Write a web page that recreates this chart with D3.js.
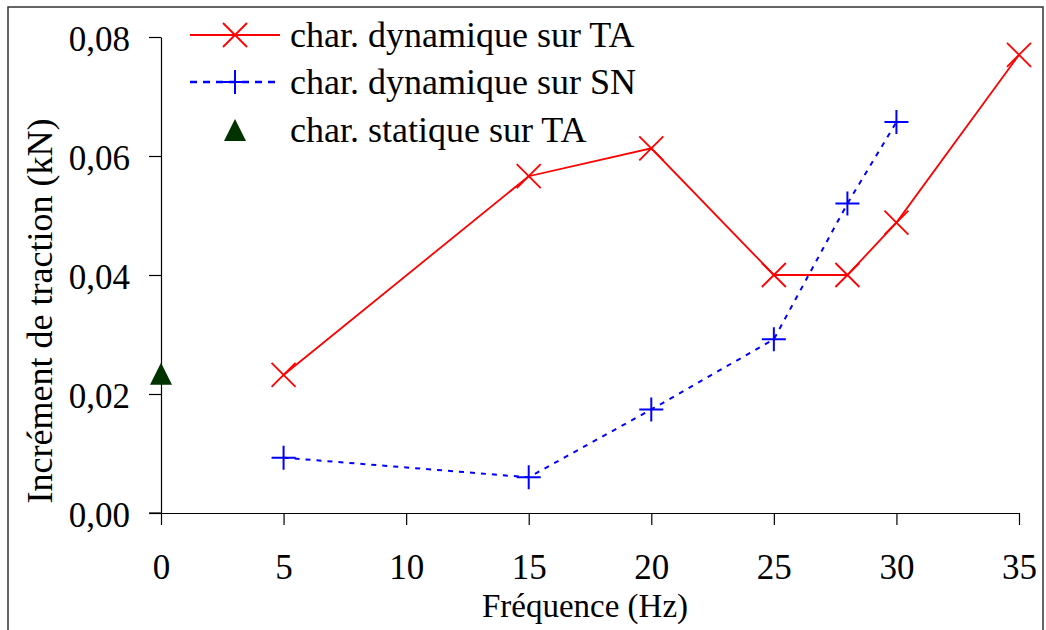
<!DOCTYPE html>
<html><head><meta charset="utf-8">
<script src="https://cdn.jsdelivr.net/npm/d3@7"></script>
<style>body{margin:0;background:#fff}svg{display:block}text{font-family:"Liberation Serif","Times New Roman",serif;fill:#000}</style>
</head><body><svg id="c" width="1046" height="630"></svg>
<script>
const freqTA = [5, 15, 20, 25, 28, 30, 35];
const valTA = [0.0232, 0.0566, 0.0613, 0.0400, 0.0400, 0.0488, 0.0770];
const freqSN = [5, 15, 20, 25, 28, 30];
const valSN = [0.0093, 0.0060, 0.0174, 0.0292, 0.0520, 0.0657];
const freqStat = [0];
const valStat = [0.0234];
const xTicks = [0, 5, 10, 15, 20, 25, 30, 35];
const yTicks = [0, 0.02, 0.04, 0.06, 0.08];
const seriesNames = ["char. dynamique sur TA", "char. dynamique sur SN", "char. statique sur TA"];

const svg = d3.select("#c");
const x = d3.scaleLinear().domain([0, 35]).range([161, 1019]);
const y = d3.scaleLinear().domain([0, 0.08]).range([513, 37]);

// outer frame
svg.append("rect").attr("x", 8).attr("y", 7).attr("width", 1035).attr("height", 640)
  .attr("fill", "none").attr("stroke", "#333").attr("stroke-width", 1.5);

const fmt = d => d3.format(".2f")(d).replace(".", ",");
const yAxis = svg.append("g").attr("transform", "translate(161,0)")
  .call(d3.axisLeft(y).tickValues(yTicks).tickFormat(fmt).tickSize(12).tickSizeOuter(0).tickPadding(19));
const xAxis = svg.append("g").attr("transform", "translate(0,513)")
  .call(d3.axisBottom(x).tickValues(xTicks).tickSize(12).tickSizeOuter(0).tickPadding(0));
[yAxis, xAxis].forEach(a => {
  a.attr("font-family", null);
  a.select(".domain").attr("stroke", "#000").attr("stroke-width", 1.2);
  a.selectAll(".tick line").attr("stroke", "#000").attr("stroke-width", 1.2);
  a.selectAll("text").attr("font-size", 35).attr("fill", "#000");
});
xAxis.selectAll(".tick text").attr("y", 66).attr("dy", null);
yAxis.selectAll(".tick text").attr("dy", "0.38em");
// extend x axis left to y tick end
svg.append("line").attr("x1", 149).attr("x2", 161).attr("y1", 513).attr("y2", 513).attr("stroke", "#000").attr("stroke-width", 1.2);

svg.append("text").attr("x", 585).attr("y", 617).attr("text-anchor", "middle").attr("font-size", 33).text("Fréquence (Hz)");
svg.append("text").attr("transform", "translate(52,311) rotate(-90)").attr("text-anchor", "middle").attr("font-size", 36).text("Incrément de traction (kN)");

const line = d3.line();
const ptsTA = freqTA.map((f, i) => [x(f), y(valTA[i])]);
const ptsSN = freqSN.map((f, i) => [x(f), y(valSN[i])]);

svg.append("path").attr("d", line(ptsSN)).attr("fill", "none").attr("stroke", "#0000ff").attr("stroke-width", 2).attr("stroke-dasharray", "5,6");
svg.append("path").attr("d", line(ptsTA)).attr("fill", "none").attr("stroke", "#ff0000").attr("stroke-width", 1.8);

function cross(g, cx, cy, r) {
  g.append("path").attr("d", `M${cx-r},${cy-r}L${cx+r},${cy+r}M${cx-r},${cy+r}L${cx+r},${cy-r}`)
    .attr("stroke", "#ff0000").attr("stroke-width", 1.8).attr("fill", "none");
}
function plus(g, cx, cy, r) {
  g.append("path").attr("d", `M${cx-r},${cy}L${cx+r},${cy}M${cx},${cy-r}L${cx},${cy+r}`)
    .attr("stroke", "#0000ff").attr("stroke-width", 2).attr("fill", "none");
}
function tri(g, cx, cy) {
  g.append("path").attr("d", `M${cx},${cy-11}L${cx+11},${cy+11}L${cx-11},${cy+11}Z`).attr("fill", "#003300");
}
ptsTA.forEach(p => cross(svg, p[0], p[1], 12));
ptsSN.forEach(p => plus(svg, p[0], p[1], 12));
freqStat.forEach((f, i) => tri(svg, x(f), y(valStat[i])));

// legend
const lg = svg.append("g");
const rows = [35, 82, 130];
lg.append("line").attr("x1", 190).attr("x2", 280).attr("y1", rows[0]).attr("y2", rows[0]).attr("stroke", "#ff0000").attr("stroke-width", 1.8);
cross(lg, 235, rows[0], 12);
lg.append("line").attr("x1", 190).attr("x2", 280).attr("y1", rows[1]).attr("y2", rows[1]).attr("stroke", "#0000ff").attr("stroke-width", 2.5).attr("stroke-dasharray", "7,6");
plus(lg, 235, rows[1], 12);
tri(lg, 235, rows[2]);
seriesNames.forEach((n, i) => {
  lg.append("text").attr("x", 290).attr("y", rows[i] + 12).attr("font-size", 36).text(n);
});
</script></body></html>
